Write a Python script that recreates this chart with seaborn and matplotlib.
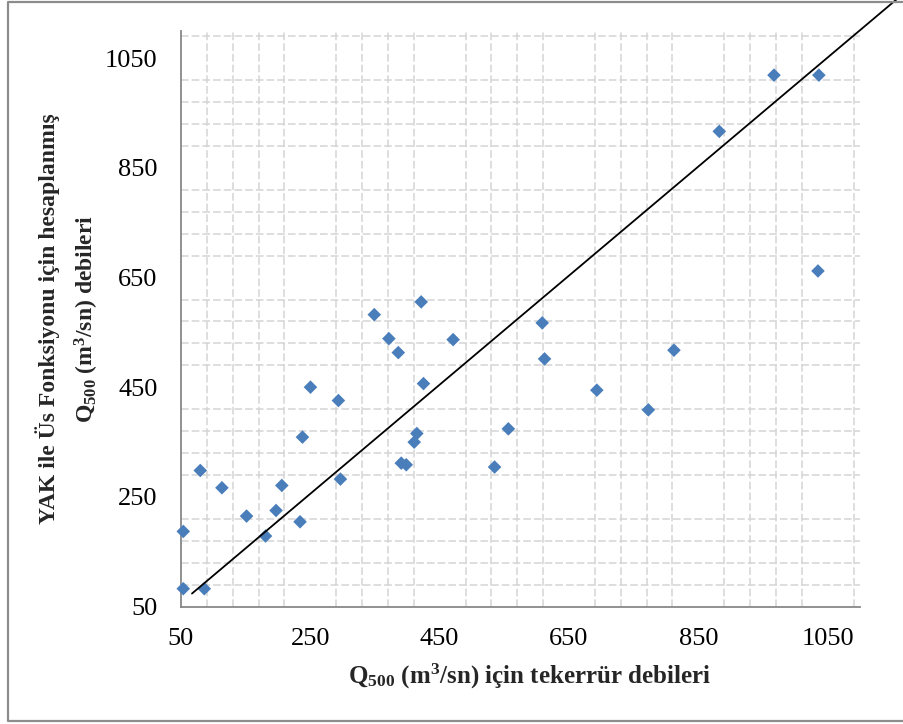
import numpy as np
import pandas as pd
import matplotlib
matplotlib.use("Agg")
import matplotlib.pyplot as plt
from matplotlib.lines import Line2D
from matplotlib.ticker import FixedLocator
import seaborn as sns

# ---- data ----
q500_observed = [53.5, 53.5, 86, 79.8, 113.3, 151.4, 180.7, 197, 205.9, 234.1,
                 237.8, 250.2, 293.4, 296.5, 348.9, 371.5, 386, 390.6, 398.3, 410.6,
                 414.7, 421.4, 425, 470.8, 534.9, 556.2, 608.6, 612.2, 693, 772.7,
                 812.3, 882.4, 967, 1036.4, 1035]
q500_calculated = [187.2, 82.8, 82.8, 298.3, 266.8, 215.2, 178.8, 225.4, 271, 204.8,
                   359.1, 450.2, 425.8, 282.6, 582.4, 538.7, 513.2, 311.7, 308.7, 350,
                   365.7, 605.6, 456.7, 536.9, 304.6, 374.2, 567.3, 501.7, 444.7, 408.8,
                   517.6, 916.5, 1019, 1019, 662]
line_x = [67, 1250]
line_y = [74, 1250]
major_ticks = [50, 250, 450, 650, 850, 1050]
tick_labels = ["50", "250", "450", "650", "850", "1050"]

df = pd.DataFrame({"obs": q500_observed, "calc": q500_calculated})

sns.set_style("white")
plt.rcParams["font.family"] = ["Liberation Serif", "DejaVu Serif"]
plt.rcParams["mathtext.fontset"] = "custom"
plt.rcParams["mathtext.rm"] = "Liberation Serif"
plt.rcParams["mathtext.bf"] = "Liberation Serif:bold"
plt.rcParams["mathtext.it"] = "Liberation Serif:italic"

W, H = 904, 724
fig = plt.figure(figsize=(W / 100, H / 100), dpi=100)
ax = fig.add_axes([181 / W, 1 - 606.7 / H, (860 - 181) / W, (606.7 - 30.7) / H])

# grid (every 40 units, dashed light gray)
grid_vals = list(range(50, 1100, 40))
ax.xaxis.set_minor_locator(FixedLocator(grid_vals))
ax.yaxis.set_minor_locator(FixedLocator(grid_vals))
ax.grid(which="minor", color="#d4d4d4", linestyle=(0, (5, 2)), linewidth=1.1)
ax.grid(which="major", visible=False)
ax.set_axisbelow(True)

sns.scatterplot(data=df, x="obs", y="calc", marker="D", color="#4A7EBB",
                s=48, edgecolor="none", linewidth=0, ax=ax, zorder=3, clip_on=False)

ax.add_line(Line2D(line_x, line_y, color="black", linewidth=1.3, clip_on=False, zorder=4))

ax.set_xlim(50, 1100)
ax.set_ylim(50, 1100)
ax.set_xticks(major_ticks)
ax.set_xticklabels(tick_labels)
ax.set_yticks(major_ticks)
ax.set_yticklabels(tick_labels)

for side in ["top", "right"]:
    ax.spines[side].set_visible(False)
for side in ["left", "bottom"]:
    ax.spines[side].set_color("#888888")
    ax.spines[side].set_linewidth(1.3)

ax.tick_params(axis="both", which="major", direction="out", length=6, width=1.3,
               color="#888888", labelsize=19, colors="black")
ax.tick_params(axis="x", which="major", pad=9)
ax.tick_params(axis="y", which="major", pad=11)
ax.tick_params(which="minor", length=0)
for lbl in ax.get_xticklabels() + ax.get_yticklabels():
    lbl.set_color("black")

ax.set_xlabel(r"$\mathbf{Q}_{\mathbf{500}}$ (m$^{\mathbf{3}}$/sn) için tekerrür debileri",
              fontsize=18, fontweight="bold")
ax.xaxis.set_label_coords((530 - 181) / (860 - 181), -(676 - 606.7) / (606.7 - 30.7))
ax.xaxis.label.set_va("center")
ax.set_ylabel("YAK ile Üs Fonksiyonu için hesaplanmış\n"
              r"$\mathbf{Q}_{\mathbf{500}}$ (m$^{\mathbf{3}}$/sn) debileri",
              fontsize=17, fontweight="bold", linespacing=1.6)
ax.yaxis.set_label_coords((68 - 181) / (860 - 181), 0.5)
ax.yaxis.label.set_va("center")

# outer frame (left, top, bottom)
frame = Line2D([903 / W, 8 / W, 8 / W, 903 / W], [1 - 1.5 / H, 1 - 1.5 / H, 1 - 721 / H, 1 - 721 / H],
               transform=fig.transFigure, color="#8c8c8c", linewidth=1.6)
fig.add_artist(frame)

fig.savefig("out.png", dpi=100)
